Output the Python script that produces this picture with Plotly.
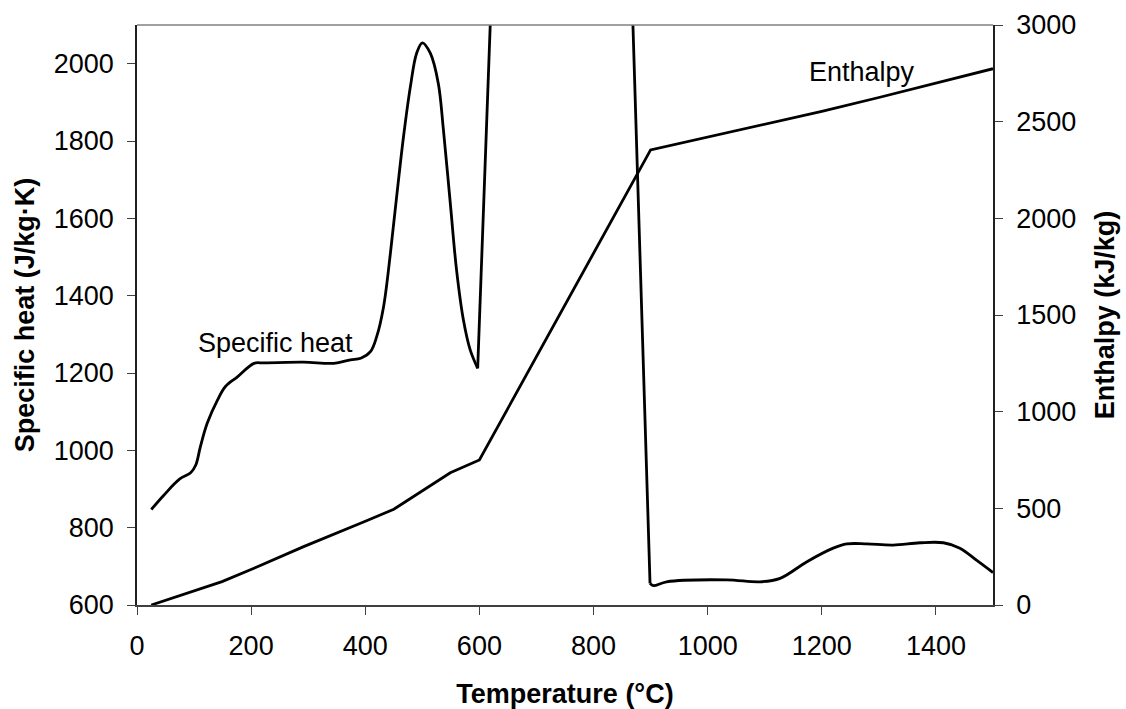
import plotly.graph_objects as go

# ---- data ----
# Specific heat (J/kg·K) - smooth part below the transformation spike
cp_low_T = [25, 47, 75, 94, 103, 111, 123, 141, 155, 176, 205, 222, 292, 345, 374, 392,
            409, 420, 432, 444, 455, 467, 479, 490, 500, 514, 528, 537, 549, 560, 572, 584, 597]
cp_low = [847, 884, 926, 942, 962, 1009, 1070, 1130, 1165, 1190, 1225, 1226, 1228, 1225, 1234, 1238,
          1255, 1294, 1371, 1509, 1656, 1811, 1940, 2027, 2054, 2027, 1949, 1828, 1639, 1466, 1337, 1259, 1212]
# spike (goes off the chart)
cp_spike_T = [597, 755, 899]
cp_spike = [1212, 7600, 656]
# smooth part above the spike
cp_high_T = [899, 905, 928, 1033, 1092, 1127, 1174, 1220, 1244, 1279, 1325, 1372, 1413, 1442, 1471, 1500]
cp_high = [656, 650, 660, 665, 660, 669, 712, 747, 758, 758, 755, 761, 761, 747, 716, 684]

# Enthalpy (kJ/kg)
h_T = [25, 94, 149, 205, 292, 398, 450, 549, 600, 900, 1000, 1100, 1200, 1300, 1400, 1500]
h_val = [0, 69, 121, 190, 302, 431, 495, 684, 750, 2354, 2420, 2487, 2553, 2625, 2700, 2774]

x_ticks = [0, 200, 400, 600, 800, 1000, 1200, 1400]
y_ticks = [600, 800, 1000, 1200, 1400, 1600, 1800, 2000]
y2_ticks = [0, 500, 1000, 1500, 2000, 2500, 3000]

FONT = "Liberation Sans, Arial, sans-serif"
LINE = dict(color="black", width=2.8)

fig = go.Figure()
fig.add_trace(go.Scatter(x=cp_low_T, y=cp_low, mode="lines",
                         line=dict(**LINE, shape="spline", smoothing=1.0), showlegend=False))
fig.add_trace(go.Scatter(x=cp_spike_T, y=cp_spike, mode="lines",
                         line=LINE, showlegend=False))
fig.add_trace(go.Scatter(x=cp_high_T, y=cp_high, mode="lines",
                         line=dict(**LINE, shape="spline", smoothing=1.0), showlegend=False))
fig.add_trace(go.Scatter(x=h_T, y=h_val, mode="lines", yaxis="y2",
                         line=LINE, showlegend=False))

fig.add_annotation(x=242, y=1277, xref="x", yref="y", text="Specific heat",
                   showarrow=False, font=dict(size=27, family=FONT, color="black"))
fig.add_annotation(x=1271, y=2757, xref="x", yref="y2", text="Enthalpy",
                   showarrow=False, font=dict(size=27, family=FONT, color="black"))

# plot-area border (top)
fig.add_shape(type="line", xref="paper", yref="paper", x0=0, x1=1, y0=1, y1=1,
              line=dict(color="#808080", width=1.5))

fig.update_layout(
    width=1126, height=709,
    margin=dict(l=137, r=133, t=25, b=104),
    paper_bgcolor="white", plot_bgcolor="white",
    font=dict(family=FONT, size=27, color="black"),
    xaxis=dict(range=[0, 1500], tickvals=x_ticks, showgrid=False, zeroline=False,
               automargin=False,
               showline=True, linecolor="#404040", linewidth=1.5,
               ticks="outside", ticklen=8, tickcolor="#404040", tickwidth=1.2,
               ticklabelstandoff=8,
               title=dict(text="<b>Temperature (°C)</b>", standoff=24,
                          font=dict(size=27, family=FONT))),
    yaxis=dict(range=[600, 2100], tickvals=y_ticks, showgrid=False, zeroline=False,
               automargin=False,
               showline=True, linecolor="#202020", linewidth=1.5,
               ticks="outside", ticklen=8, tickcolor="#404040", tickwidth=1.2,
               ticklabelstandoff=8,
               title=dict(text="<b>Specific heat (J/kg·K)</b>", standoff=11,
                          font=dict(size=27, family=FONT))),
    yaxis2=dict(range=[0, 3000], tickvals=y2_ticks, overlaying="y", side="right",
                automargin=False,
                showgrid=False, zeroline=False,
                showline=True, linecolor="#202020", linewidth=1.5,
                ticks="outside", ticklen=8, tickcolor="#404040", tickwidth=1.2,
                ticklabelstandoff=8,
                title=dict(text="<b>Enthalpy (kJ/kg)</b>", standoff=20,
                           font=dict(size=27, family=FONT))),
    yaxis3=dict(range=[0, 3000], tickvals=y2_ticks, overlaying="y", side="right",
                automargin=False,
                showgrid=False, zeroline=False, showline=False, showticklabels=False,
                ticks="inside", ticklen=8, tickcolor="#404040", tickwidth=1.2),
)

fig.write_html("out.html", config={"displayModeBar": False},
               post_script="document.body.style.margin='0';")
